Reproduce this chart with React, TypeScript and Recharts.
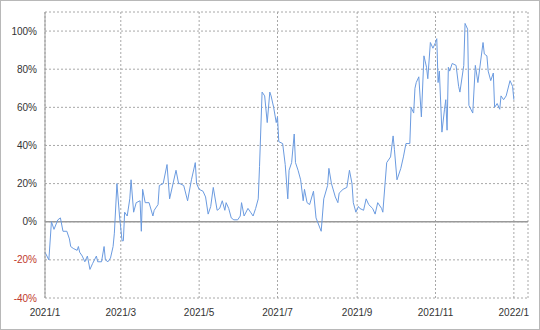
import React from "react";
import { LineChart, Line, XAxis, YAxis, CartesianGrid, ReferenceLine } from "recharts";

const dayIndex: number[] = [
  0, 3, 5, 7, 10, 12, 14, 17, 19, 20, 22, 25, 26, 27, 29, 31, 33, 35, 37, 40, 41, 44, 46, 47, 49, 51, 53, 54, 56, 58,
  60, 61, 62, 64, 66, 67, 69, 71, 74, 75, 76, 78, 81, 84, 85, 88, 89, 92, 95, 97, 102, 104, 105, 108, 111, 114, 117, 118, 120, 123,
  125, 127, 129, 131, 134, 136, 138, 140, 141, 143, 145, 147, 150, 152, 153, 155, 158, 160, 162, 164, 166, 167, 169, 171, 173, 175, 176, 178, 180, 181,
  182, 185, 187, 189, 190, 192, 194, 195, 197, 199, 201, 202, 204, 206, 209, 211, 215, 217, 220, 221, 223, 226, 228, 229, 232, 235, 237, 239, 240, 242,
  244, 245, 248, 250, 252, 255, 257, 259, 262, 263, 266, 269, 271, 272, 274, 277, 279, 281, 284, 285, 287, 288, 289, 291, 293, 295, 297, 298, 300, 302,
  304, 305, 306, 307, 309, 311, 312, 313, 314, 315, 317, 320, 322, 323, 326, 327, 329, 330, 333, 335, 337, 341, 342, 344, 345, 347, 349, 350, 352, 354,
  355, 357, 359, 362, 364, 365,
];

const returnPct: number[] = [
  -16, -20, 0, -4, 1, 2, -5, -5, -9, -13, -14, -15, -13, -16, -18, -21, -18, -25, -22, -18, -21, -21, -13, -20, -21, -19, -13, -6, 20, 3,
  -10, -10, 5, 3, 12, 22, 5, 10, 11, -5, 17, 10, 10, 3, 6, 9, 19, 20, 30, 12, 27, 20, 20, 19, 11, 22, 31, 20, 17, 16,
  13, 4, 8, 18, 6, 7, 11, 6, 10, 7, 2, 1, 1, 3, 10, 3, 7, 5, 3, 7, 12, 29, 68, 66, 52, 68, 66, 60, 52, 55,
  42, 41, 30, 12, 27, 31, 46, 31, 27, 22, 11, 17, 10, 9, 16, 2, -5, 12, 19, 28, 20, 13, 10, 15, 17, 18, 27, 20, 10, 5,
  8, 7, 6, 12, 9, 7, 4, 10, 7, 5, 31, 34, 45, 38, 22, 28, 34, 41, 41, 60, 57, 70, 73, 76, 55, 87, 81, 75, 94, 91,
  94, 96, 73, 79, 47, 59, 64, 48, 81, 79, 83, 82, 71, 68, 82, 104, 101, 61, 57, 82, 73, 94, 88, 87, 79, 74, 78, 60, 62, 59,
  66, 64, 66, 74, 71, 64,
];

const xTickDays: number[] = [0, 59, 120, 181, 243, 304, 365];
const xTickLabels: string[] = ["2021/1", "2021/3", "2021/5", "2021/7", "2021/9", "2021/11", "2022/1"];
const yTicks: number[] = [-40, -20, 0, 20, 40, 60, 80, 100];

const data = dayIndex.map((d, i) => ({ day: d, value: returnPct[i] }));

const FONT = "'Liberation Sans', Arial, sans-serif";

const YTick = (props: any) => {
  const { x, y, payload } = props;
  const v = payload.value as number;
  return (
    <text x={x} y={y} dy={3.5} textAnchor="end" fontSize={10} fontFamily={FONT} fill={v < 0 ? "#c0392b" : "#333333"}>
      {`${v}%`}
    </text>
  );
};

const XTick = (props: any) => {
  const { x, y, payload } = props;
  const idx = xTickDays.indexOf(payload.value);
  return (
    <text x={x} y={y} dy={10} textAnchor="middle" fontSize={10} fontFamily={FONT} fill="#333333">
      {idx >= 0 ? xTickLabels[idx] : ""}
    </text>
  );
};

export default function App() {
  return (
    <div
      style={{
        position: "absolute",
        left: 0,
        top: 0,
        width: 540,
        height: 330,
        boxSizing: "border-box",
        border: "1px solid #b8b8b8",
        background: "#ffffff",
      }}
    >
      <div style={{ position: "absolute", left: -1, top: -1 }}>
        <LineChart width={540} height={330} data={data} margin={{ top: 12, right: 12, bottom: 12, left: 0 }}>
          <CartesianGrid
            stroke="#a8a8a8"
            strokeDasharray="2 2"
            horizontal={true}
            vertical={true}
          />
          <XAxis
            dataKey="day"
            type="number"
            domain={[0, 376]}
            ticks={xTickDays}
            interval={0}
            axisLine={false}
            tickLine={false}
            height={20}
            tick={<XTick />}
          />
          <YAxis
            type="number"
            domain={[-40, 110]}
            ticks={yTicks}
            interval={0}
            width={45}
            axisLine={{ stroke: "#999999" }}
            tickLine={false}
            tickSize={6}
            tickMargin={2}
            tick={<YTick />}
          />
          <ReferenceLine y={0} stroke="#999999" strokeWidth={1.5} />
          <Line
            type="linear"
            dataKey="value"
            stroke="#6b9be0"
            strokeWidth={1}
            dot={false}
            isAnimationActive={false}
          />
        </LineChart>
      </div>
    </div>
  );
}
